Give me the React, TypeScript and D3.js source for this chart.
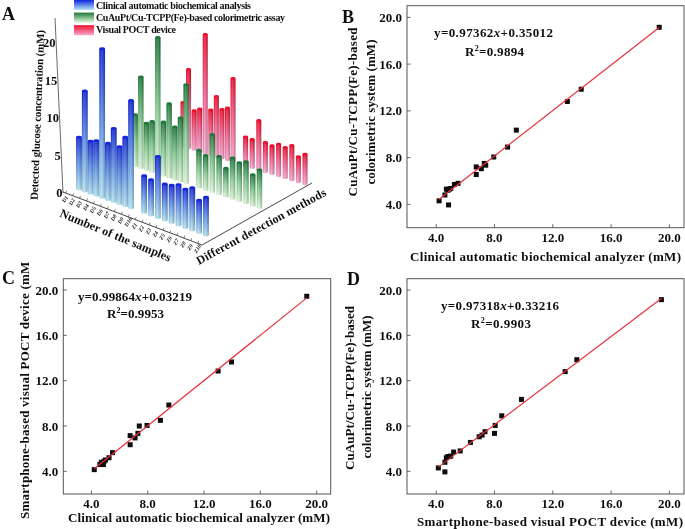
import * as d3 from "d3";

// values in sample order D1..D10, Z1..Z10
const sampleLabels = ["D1", "D2", "D3", "D4", "D5", "D6", "D7", "D8", "D9", "D10", "Z1", "Z2", "Z3", "Z4", "Z5", "Z6", "Z7", "Z8", "Z9", "Z10"];
const clinical = [6.75, 13, 6.75, 7.1, 19.3, 7.3, 9.5, 7.4, 8.9, 13.95, 4.8, 4.6, 7.95, 4.7, 4.85, 5.25, 5.0, 5.5, 4.2, 4.9];
const colorimetric = [7.2, 12.8, 6.55, 7.05, 19.15, 7.5, 10.35, 7.35, 8.9, 13.85, 5.2, 4.8, 8.05, 5.3, 3.95, 5.7, 5.35, 5.8, 4.3, 5.3];
const poct = [7.15, 12.85, 6.35, 6.95, 19.45, 7.35, 9.85, 8.0, 8.5, 13.65, 4.7, 4.6, 8.05, 4.8, 4.6, 5.2, 5.0, 5.65, 4.15, 4.9];

const methods = ["Clinical automatic biochemical analysis", "CuAuPt/Cu-TCPP(Fe)-based colorimetric assay", "Visual POCT device"];
const methodColors = [
  ["#1226dc", "#5f93ea", "#b6e8f8"],
  ["#1d783a", "#86cf94", "#e0fbdc"],
  ["#f00c2c", "#f6608e", "#faa8d2"],
];
const zTicks = [0, 5, 10, 15, 20];
const ticks2d = [4, 8, 12, 16, 20];

const W = 685;
const H = 529;

// hand fitted projection for the 3d panel
const sampleFrac = d3.scaleLinear().domain([0, 9, 10, 19]).range([0, 0.41, 0.513, 1]);
const depthFrac = d3.scaleLinear().domain([0, 1, 2]).range([0, 0.54, 1]);
const frontX = d3.scaleLinear().domain([0, 1]).range([79, 206]);
const frontY = d3.scaleLinear().domain([0, 1]).range([189, 235]);
const backX = d3.scaleLinear().domain([0, 1]).range([183, 305]);
const backY = d3.scaleLinear().domain([0, 1]).range([146, 184]);
const unitPx = d3.scaleLinear().domain([0, 1, 2]).range([7.7, 7.1, 6.1]);
const barW = d3.scaleLinear().domain([0, 2]).range([5.8, 5]);
const zAxis = d3.scaleLinear().domain([0, 20]).range([193, 43]);
const zAxisX = d3.scaleLinear().domain([0, 23]).range([63, 55]);
const tickAlong = d3.scaleLinear().domain([-0.4, 19.6]).range([0, 1]);

const project = (s: number, d: number) => {
  const f = sampleFrac(s);
  const t = depthFrac(d);
  return [d3.interpolateNumber(frontX(f), backX(f))(t), d3.interpolateNumber(frontY(f), backY(f))(t)];
};

const Bars3D = () => {
  const rows = [clinical, colorimetric, poct];
  const bars: JSX.Element[] = [];
  [2, 1, 0].forEach((d) => {
    rows[d].forEach((v, s) => {
      const [x, y] = project(s, d);
      const h = v * unitPx(d);
      const w = barW(d);
      const ry = 1.4;
      const body = `M${x - w / 2},${y - h}V${y}A${w / 2},${ry} 0 0 0 ${x + w / 2},${y}V${y - h}Z`;
      bars.push(
        <g key={`${d}-${s}`}>
          <path d={body} fill={`url(#bar${d})`} />
          <path d={body} fill="url(#shade)" />
          <ellipse cx={x} cy={y - h} rx={w / 2} ry={ry} fill={methodColors[d][0]} />
        </g>
      );
    });
  });

  const axisLen = (t: number) => [d3.interpolateNumber(63, 202)(t), d3.interpolateNumber(192, 245)(t)];

  return (
    <g fontFamily="'Liberation Serif'" fontWeight="bold" fill="#111">
      {/* legend */}
      {methods.map((m, i) => (
        <g key={m}>
          <rect x={74} y={i * 12.6} width={20} height={10} fill={`url(#leg${i})`} />
          <text x={96} y={8.5 + i * 12.4} fontSize={10} textLength={[155, 189, 80][i]}>{m}</text>
        </g>
      ))}
      {/* vertical axis */}
      <line x1={zAxisX(0)} y1={193} x2={zAxisX(23)} y2={18} stroke="#444" strokeWidth={0.8} />
      {zTicks.map((t) => (
        <text key={t} x={zAxisX(t) - 0.5} y={zAxis(t) + 4} fontSize={12.5} textAnchor="end">{t}</text>
      ))}
      <text transform="translate(41,115) rotate(-87.8)" fontSize={11} textAnchor="middle" textLength={170}>Detected glucose concentration (mM)</text>
      {/* floor axes */}
      <line x1={63} y1={192} x2={202} y2={245} stroke="#333" strokeWidth={0.9} />
      <line x1={202} y1={245} x2={312} y2={183} stroke="#333" strokeWidth={0.9} />
      {sampleLabels.map((l, i) => {
        const [tx, ty] = axisLen(tickAlong(i));
        return (
          <g key={l}>
            <line x1={tx} y1={ty} x2={tx + 0.8} y2={ty - 2.5} stroke="#333" strokeWidth={0.6} />
            <text transform={`translate(${tx - 1},${ty + 10}) rotate(-58)`} fontSize={5.5} fontStyle="italic">{l}</text>
          </g>
        );
      })}
      <text transform="translate(114,239) rotate(22.4)" fontSize={12} textAnchor="middle" textLength={119}>Number of the samples</text>
      <text transform="translate(263,230) rotate(-28.6)" fontSize={12} textAnchor="middle" textLength={146}>Different detection methods</text>
      {bars}
    </g>
  );
};

type ScatterProps = {
  frame: [number, number, number, number];
  xs: number[];
  ys: number[];
  slope: number;
  intercept: number;
  eqText: [string, string];
  r2: string;
  eqPos: [number, number, number];
  r2Pos: [number, number, number];
  xTitle: string;
  xTitlePos: [number, number, number];
  xTickY: number;
  yTitles: { text: string; x: number; y: number; len: number }[];
};

const Scatter = ({ frame, xs, ys, slope, intercept, eqText, r2, eqPos, r2Pos, xTitle, xTitlePos, xTickY, yTitles }: ScatterProps) => {
  const [x0, x1, y0, y1] = frame;
  const xScale = d3.scaleLinear().domain([2, 21]).range([x0, x1]);
  const yScale = d3.scaleLinear().domain([2, 21]).range([y1, y0]);
  const xMin = d3.min(xs) as number;
  const xMax = d3.max(xs) as number;
  const fit = d3.line<number>().x((d) => xScale(d)).y((d) => yScale(slope * d + intercept));
  return (
    <g fontFamily="'Liberation Serif'" fontWeight="bold" fill="#111">
      <rect x={x0} y={y0} width={x1 - x0} height={y1 - y0} fill="none" stroke="#555" strokeWidth={1} />
      {ticks2d.map((t) => (
        <g key={t}>
          <line x1={xScale(t)} x2={xScale(t)} y1={y1} y2={y1 - 3.5} stroke="#555" strokeWidth={0.9} />
          <line x1={x0} x2={x0 + 3.5} y1={yScale(t)} y2={yScale(t)} stroke="#555" strokeWidth={0.9} />
          <text x={xScale(t)} y={xTickY} fontSize={13} textAnchor="middle">{t.toFixed(1)}</text>
          <text x={x0 - 5} y={yScale(t) + 4.5} fontSize={13} textAnchor="end">{t.toFixed(1)}</text>
        </g>
      ))}
      {xs.map((x, i) => (
        <rect key={i} x={xScale(x) - 2.5} y={yScale(ys[i]) - 2.5} width={5} height={5} fill="#0a0a0a" />
      ))}
      <path d={fit([xMin, xMax]) || ""} fill="none" stroke="#e8333c" strokeWidth={1.2} />
      <text x={eqPos[0]} y={eqPos[1]} fontSize={13} textLength={eqPos[2]}>
        {eqText[0]}<tspan fontStyle="italic">x</tspan>{eqText[1]}
      </text>
      <text x={r2Pos[0]} y={r2Pos[1]} fontSize={13} textLength={r2Pos[2]}>
        R<tspan fontSize={8} dy={-5}>2</tspan><tspan dy={5}>={r2}</tspan>
      </text>
      <text x={xTitlePos[0]} y={xTitlePos[1]} fontSize={13} textLength={xTitlePos[2]}>{xTitle}</text>
      {yTitles.map((t) => (
        <text key={t.text} transform={`translate(${t.x},${t.y}) rotate(-90)`} fontSize={13} textAnchor="middle" textLength={t.len}>{t.text}</text>
      ))}
    </g>
  );
};

export default function App() {
  return (
    <svg width={W} height={H} style={{ position: "absolute", left: 0, top: 0, background: "#fff" }}>
      <defs>
        <filter id="soft" x="0" y="0" width="1" height="1">
          <feGaussianBlur stdDeviation="0.4" />
        </filter>
        {methodColors.map((c, i) => (
          <linearGradient key={i} id={`bar${i}`} x1="0" y1="0" x2="0" y2="1">
            <stop offset="0" stopColor={c[0]} />
            <stop offset="0.5" stopColor={c[1]} />
            <stop offset="1" stopColor={c[2]} />
          </linearGradient>
        ))}
        {methodColors.map((c, i) => (
          <linearGradient key={i} id={`leg${i}`} x1="0" y1="0" x2="0" y2="1">
            <stop offset="0" stopColor={c[0]} />
            <stop offset="1" stopColor={c[2]} />
          </linearGradient>
        ))}
        <linearGradient id="shade" x1="0" y1="0" x2="1" y2="0">
          <stop offset="0" stopColor="#000" stopOpacity={0.1} />
          <stop offset="0.35" stopColor="#fff" stopOpacity={0.15} />
          <stop offset="1" stopColor="#000" stopOpacity={0.25} />
        </linearGradient>
      </defs>
      <g filter="url(#soft)">
        <rect width={W} height={H} fill="#fff" />
        <Bars3D />
        <Scatter
          frame={[407, 684, 5.7, 227.7]}
          xs={clinical}
          ys={colorimetric}
          slope={0.97362}
          intercept={0.35012}
          eqText={["y=0.97362", "+0.35012"]}
          r2="0.9894"
          eqPos={[434, 37, 119]}
          r2Pos={[465, 56, 59]}
          xTitle="Clinical automatic biochemical analyzer (mM)"
          xTitlePos={[410, 261, 271]}
          xTickY={242}
          yTitles={[
            { text: "CuAuPt/Cu-TCPP(Fe)-based", x: 357, y: 112, len: 169 },
            { text: "colorimetric system (mM)", x: 375, y: 112, len: 145 },
          ]}
        />
        <Scatter
          frame={[63.3, 330.7, 278.7, 494]}
          xs={clinical}
          ys={poct}
          slope={0.99864}
          intercept={0.03219}
          eqText={["y=0.99864", "+0.03219"]}
          r2="0.9953"
          eqPos={[78, 301, 114]}
          r2Pos={[107, 318, 57]}
          xTitle="Clinical automatic biochemical analyzer (mM)"
          xTitlePos={[68, 522, 262]}
          xTickY={508}
          yTitles={[{ text: "Smartphone-based visual POCT device (mM)", x: 29, y: 388, len: 262 }]}
        />
        {/* the closing bracket of panel C's title is cut off in the figure */}
        <rect x={18} y={250} width={16} height={11.5} fill="#fff" />
        <Scatter
          frame={[407, 684, 278.7, 494]}
          xs={poct}
          ys={colorimetric}
          slope={0.97318}
          intercept={0.33216}
          eqText={["y=0.97318", "+0.33216"]}
          r2="0.9903"
          eqPos={[441, 310, 118]}
          r2Pos={[471, 328, 60]}
          xTitle="Smartphone-based visual POCT device (mM)"
          xTitlePos={[417, 526, 266]}
          xTickY={508}
          yTitles={[
            { text: "CuAuPt/Cu-TCPP(Fe)-based", x: 354, y: 388, len: 164 },
            { text: "colorimetric system (mM)", x: 371, y: 387, len: 143 },
          ]}
        />
        <g fontFamily="'Liberation Serif'" fontWeight="bold" fontSize={18} fill="#111">
          <text x={2} y={20}>A</text>
          <text x={342} y={23}>B</text>
          <text x={2} y={284}>C</text>
          <text x={347} y={285}>D</text>
        </g>
      </g>
    </svg>
  );
}
